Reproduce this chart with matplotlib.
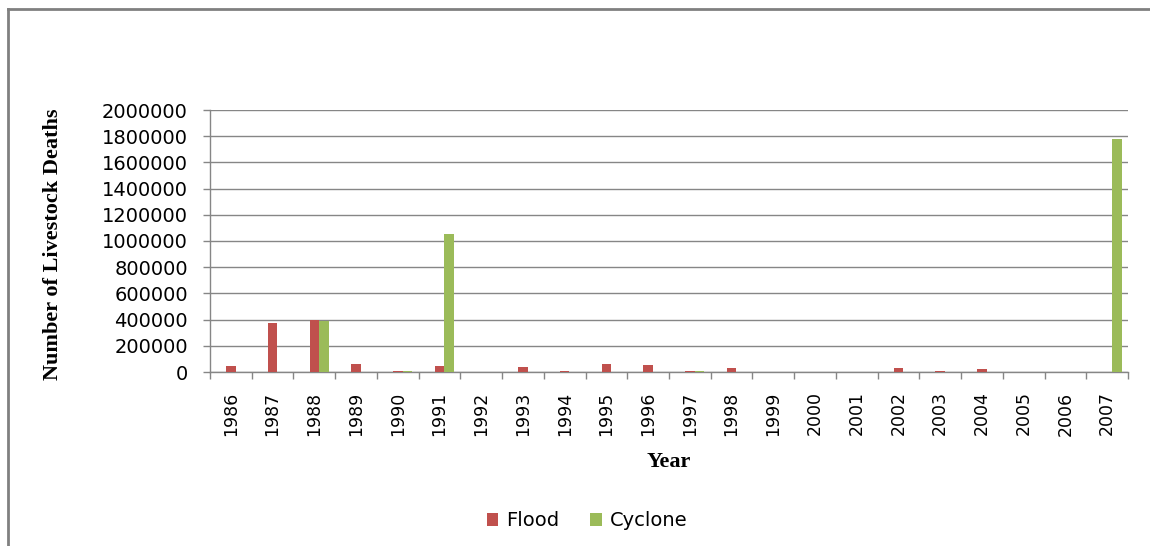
import matplotlib
matplotlib.use("Agg")
import matplotlib.pyplot as plt
from matplotlib.lines import Line2D
from matplotlib.ticker import FixedLocator
import numpy as np

# Данные (гибель скота по годам)
years = ["1986", "1987", "1988", "1989", "1990", "1991", "1992", "1993", "1994",
         "1995", "1996", "1997", "1998", "1999", "2000", "2001", "2002", "2003",
         "2004", "2005", "2006", "2007"]
flood = [43000, 372000, 399000, 60000, 10000, 48000, 0, 35000, 8000, 58000,
         50000, 8000, 28000, 0, 0, 0, 28000, 10000, 20000, 0, 0, 0]
cyclone = [0, 0, 387000, 0, 8000, 1056000, 0, 0, 0, 0, 0, 8000, 0, 0, 0, 0,
           0, 0, 0, 0, 0, 1780000]
yticks = np.arange(0, 2000001, 200000)

FLOOD_C = "#C0504D"
CYCLONE_C = "#9BBB59"
GRID_C = "#868686"
W = 0.23  # ширина столбца (доля категории)

fig = plt.figure(figsize=(11.5, 5.46), dpi=100)
ax = fig.add_axes([210 / 1150, 1 - 372 / 546, 918 / 1150, 262 / 546])

x = np.arange(len(years))
# Excel-кластер: flood по центру категории, cyclone справа от него
ax.bar(x, flood, W, color=FLOOD_C, label="Flood", zorder=3)
ax.bar(x + W, cyclone, W, color=CYCLONE_C, label="Cyclone", zorder=3)

ax.set_xlim(-0.5, len(years) - 0.5)
ax.set_ylim(0, 2000000)
ax.set_yticks(yticks)
ax.set_yticklabels([str(v) for v in yticks], fontsize=14, family="DejaVu Sans")
ax.yaxis.grid(True, color=GRID_C, lw=1.0, zorder=0)

ax.set_xticks(x)
ax.set_xticklabels(years, rotation=90, fontsize=12.5, family="DejaVu Sans")
ax.xaxis.set_minor_locator(FixedLocator(np.arange(-0.5, len(years), 1.0)))
ax.tick_params(axis="x", which="major", length=0, pad=14)
ax.tick_params(axis="x", which="minor", length=5, color=GRID_C, width=1)
ax.tick_params(axis="y", length=5, color=GRID_C, width=1, pad=11)

for s in ("top", "right"):
    ax.spines[s].set_visible(False)
for s in ("left", "bottom"):
    ax.spines[s].set_color(GRID_C)
    ax.spines[s].set_linewidth(1.0)

ax.set_xlabel("Year", family="Liberation Serif", fontweight="bold", fontsize=16,
              labelpad=12)
fig.text(53 / 1150, 1 - 244 / 546, "Number of Livestock Deaths", rotation=90,
         ha="center", va="center", family="Liberation Serif", fontweight="bold",
         fontsize=16)

leg = fig.legend(loc="center", bbox_to_anchor=(587 / 1150, 1 - 521 / 546),
                 ncol=2, frameon=False, fontsize=14, handlelength=0.6,
                 handleheight=0.6, handletextpad=0.4, columnspacing=1.6,
                 prop={"family": "DejaVu Sans", "size": 14})

# Рамка области диаграммы (видны только левая и верхняя стороны)
fig.add_artist(Line2D([8 / 1150, 8 / 1150], [0, 1 - 9 / 546], color="#808080",
                      lw=2, transform=fig.transFigure))
fig.add_artist(Line2D([8 / 1150, 1], [1 - 9 / 546, 1 - 9 / 546], color="#808080",
                      lw=2, transform=fig.transFigure))

fig.savefig("out.png", dpi=100)
